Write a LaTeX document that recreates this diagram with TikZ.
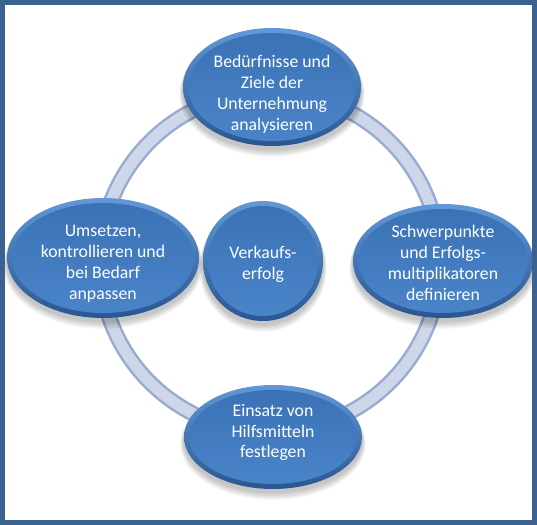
\documentclass[tikz,border=0pt]{standalone}
\usepackage{fontspec}
\setmainfont{Carlito}
\usetikzlibrary{shapes.geometric}
\definecolor{frameblue}{HTML}{3A6190}
\definecolor{ringedge}{HTML}{98ACCF}
\definecolor{ringfill}{HTML}{CDD7E9}
\definecolor{rimtop}{HTML}{6298D6}
\definecolor{rimbot}{HTML}{2A5690}
\definecolor{bodytop}{HTML}{3B72B6}
\definecolor{bodybot}{HTML}{4A84C8}
\tikzset{
  outerbub/.style={ellipse, inner sep=0pt, draw=none, top color=rimtop, bottom color=rimbot},
  innerbub/.style={ellipse, inner sep=0pt, draw=none, top color=bodytop, bottom color=bodybot},
  bubtext/.style={align=center, text=white, inner sep=0pt, font=\fontsize{17.8}{21}\selectfont},
}
% name, x, y, rx, ry, text y offset, text
\newcommand\mybubble[7]{%
  \foreach \k in {1,...,6}{\fill[black, opacity=0.04] (#2,#3-3-\k*0.7) ellipse [x radius=#4+\k*0.6, y radius=#5+\k*0.6];}
  \node[outerbub, minimum width=#4*2bp, minimum height=#5*2bp] (#1) at (#2,#3) {};
  \node[innerbub, minimum width=#4*2bp-10bp, minimum height=#5*2bp-10bp] (#1-in) at (#1.center) {};
  \node[bubtext] (#1-text) at ([yshift=#6bp]#1.center) {#7};
}
\begin{document}
\begin{tikzpicture}[x=1bp,y=1bp]
\useasboundingbox (0,0) rectangle (537,525);
\fill[white] (0,0) rectangle (537,525);
% ring
\coordinate (ringc) at (270,263);
\draw[ringedge, line width=16bp] (ringc) circle (170);
\draw[ringfill, line width=11bp] (ringc) circle (170);
% bubbles
\mybubble{ntop}{272}{438}{89}{59}{-7.5}{Bedürfnisse und\\Ziele der\\Unternehmung\\analysieren}
\mybubble{nleft}{103}{267}{96}{60}{-6}{Umsetzen,\\kontrollieren und\\bei Bedarf\\anpassen}
\mybubble{nright}{443}{264}{90}{57}{-2}{Schwerpunkte\\und Erfolgs-\\multiplikatoren\\definieren}
\mybubble{nbottom}{273}{88}{89}{52}{4.5}{Einsatz von\\Hilfsmitteln\\festlegen}
\mybubble{ncenter}{263}{264}{60}{60}{-3.5}{Verkaufs-\\erfolg}
% frame
\draw[frameblue, line width=5bp] (2.5,2.5) rectangle (534.5,522.5);
\end{tikzpicture}
\end{document}
